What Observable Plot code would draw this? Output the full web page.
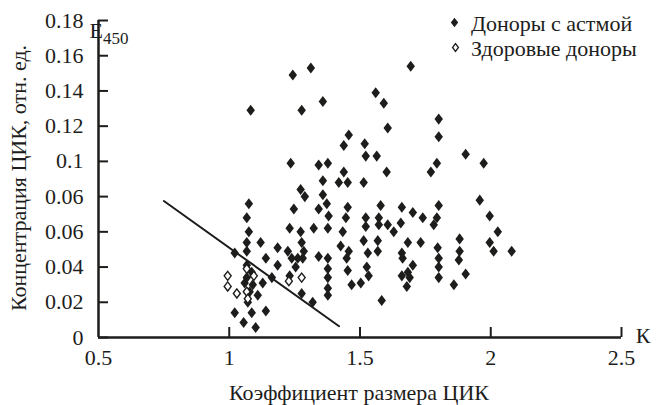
<!DOCTYPE html>
<html>
<head>
<meta charset="utf-8">
<script src="https://cdn.jsdelivr.net/npm/d3@7"></script>
<script src="https://cdn.jsdelivr.net/npm/@observablehq/plot@0.6"></script>
<style>
  html, body { margin: 0; padding: 0; background: #fff; }
  #chart svg { display: block; }
</style>
</head>
<body>
<div id="chart"></div>
<script>
// ---- data ----
const asthmaX = [1.312,1.243,1.082,1.277,1.358,1.457,1.438,1.235,1.342,1.377,1.438,1.358,1.419,1.453,1.273,1.358,1.289,
  1.694,1.560,1.591,1.801,1.606,1.801,1.518,1.522,1.564,1.904,1.973,1.602,1.794,1.771,1.514,
  1.075,1.067,1.247,1.373,1.342,1.380,1.453,1.446,1.231,1.273,1.323,1.377,1.434,1.075,1.067,1.120,1.185,1.277,
  1.285,1.426,1.457,1.021,1.067,1.140,1.224,1.239,1.262,1.281,1.342,1.377,1.449,1.185,1.254,1.067,1.086,1.067,
  1.377,1.453,1.163,1.231,1.377,1.059,1.090,1.128,1.468,1.377,1.078,1.109,1.377,1.277,1.071,1.319,1.021,1.086,
  1.140,1.055,1.101,
  1.958,1.996,2.027,1.996,2.011,2.080,1.579,1.660,1.702,1.740,1.801,1.794,1.782,1.522,1.522,1.572,1.572,1.606,
  1.629,1.656,1.514,1.530,1.568,1.568,1.683,1.732,1.660,1.663,1.797,1.801,1.801,1.801,1.881,1.881,1.878,1.904,
  1.859,1.526,1.533,1.503,1.702,1.683,1.660,1.690,1.679,1.583];
const asthmaY = [0.153,0.149,0.129,0.129,0.134,0.115,0.109,0.099,0.098,0.099,0.094,0.089,0.088,0.088,0.084,0.081,0.080,
  0.154,0.139,0.133,0.124,0.119,0.114,0.110,0.103,0.103,0.104,0.099,0.094,0.099,0.094,0.088,
  0.076,0.068,0.073,0.076,0.073,0.069,0.074,0.068,0.062,0.060,0.062,0.062,0.060,0.060,0.054,0.054,0.051,0.054,
  0.049,0.052,0.049,0.048,0.049,0.045,0.049,0.045,0.045,0.045,0.046,0.045,0.045,0.041,0.040,0.041,0.037,0.034,
  0.039,0.038,0.034,0.035,0.034,0.031,0.030,0.031,0.030,0.028,0.026,0.024,0.024,0.025,0.020,0.020,0.014,0.014,
  0.015,0.0085,0.0057,
  0.078,0.069,0.060,0.054,0.049,0.049,0.075,0.074,0.071,0.068,0.075,0.068,0.064,0.068,0.063,0.068,0.064,0.064,
  0.060,0.065,0.055,0.048,0.055,0.049,0.054,0.054,0.048,0.045,0.051,0.045,0.040,0.034,0.056,0.049,0.044,0.036,
  0.030,0.040,0.035,0.031,0.041,0.037,0.035,0.034,0.029,0.021];
const healthyX = [0.994,0.994,1.029,1.067,1.094,1.067,1.071,1.228,1.277];
const healthyY = [0.035,0.029,0.025,0.039,0.035,0.026,0.022,0.032,0.034];
const lineX = [0.75, 1.42];
const lineY = [0.0775, 0.0064];
const xTicks = [0.5, 1, 1.5, 2, 2.5];
const xTickLabels = ["0.5", "1", "1.5", "2", "2.5"];
const yTicks = [0, 0.02, 0.04, 0.06, 0.08, 0.1, 0.12, 0.14, 0.16, 0.18];
const yTickLabels = ["0", "0.02", "0.04", "0.06", "0.06", "0.1", "0.12", "0.14", "0.16", "0.18"];
const seriesNames = ["Доноры с астмой", "Здоровые доноры"];
const xTitle = "Коэффициент размера ЦИК";
const yTitle = "Концентрация ЦИК, отн. ед.";
const xUnit = "К";
const eMain = "E";
const eSub = "450";

// ---- build ----
const asthma = asthmaX.map((x, i) => ({x, y: asthmaY[i]}));
const healthy = healthyX.map((x, i) => ({x, y: healthyY[i]}));
const trend = lineX.map((x, i) => ({x, y: lineY[i]}));

const diamond = {
  draw(context, size) {
    const r = Math.sqrt(size / Math.PI);
    const hy = r * 1.2, hx = r * 0.92;
    context.moveTo(0, -hy);
    context.lineTo(hx, 0);
    context.lineTo(0, hy);
    context.lineTo(-hx, 0);
    context.closePath();
  }
};

const ink = "#1d1d1b";
const xDom = [0.5, 2.5], yDom = [0, 0.18];
const FONT = '"Liberation Serif"';

const chart = Plot.plot({
  width: 657,
  height: 405,
  marginLeft: 98,
  marginRight: 36,
  marginTop: 20,
  marginBottom: 68,
  style: {color: ink, background: "#fff"},
  x: {domain: xDom},
  y: {domain: yDom},
  marks: [
    Plot.axisX({ticks: xTicks, tickSize: 0, tickPadding: 12, tickFormat: d => xTickLabels[xTicks.indexOf(d)], label: null, fontSize: 22}),
    Plot.axisY({ticks: yTicks, tickSize: 0, tickPadding: 15, tickFormat: d => yTickLabels[yTicks.indexOf(d)], label: null, fontSize: 22}),
    Plot.ruleY(yTicks, {y: d => d, x1: xDom[0], x2: xDom[0], insetRight: -10, stroke: ink, strokeWidth: 2}),
    Plot.ruleX(xTicks.slice(1), {x: d => d, y1: yDom[0], y2: yDom[0], insetBottom: 10, stroke: ink, strokeWidth: 2}),
    Plot.ruleX([xDom[0]], {stroke: ink, strokeWidth: 2.5}),
    Plot.ruleY([yDom[0]], {stroke: ink, strokeWidth: 2.5}),
    Plot.dot(asthma, {x: "x", y: "y", symbol: diamond, r: 4.6, fill: ink, stroke: "none"}),
    Plot.dot(healthy, {x: "x", y: "y", symbol: diamond, r: 3.8, fill: "#fff", stroke: ink, strokeWidth: 1.4}),
    Plot.line(trend, {x: "x", y: "y", stroke: ink, strokeWidth: 2}),
    Plot.dot([seriesNames[0]], {frameAnchor: "top-right", dx: -167, dy: 2, symbol: diamond, r: 4.0, fill: ink, stroke: "none"}),
    Plot.dot([seriesNames[1]], {frameAnchor: "top-right", dx: -166, dy: 27, symbol: diamond, r: 3.2, fill: "#fff", stroke: ink, strokeWidth: 1.3})
  ]
});
document.getElementById("chart").appendChild(chart);

// annotation texts appended into the same SVG
const svg = d3.select(chart);
function addText(t, x, y, opts = {}) {
  const el = svg.append("text")
    .attr("x", x).attr("y", y)
    .attr("fill", ink)
    .attr("text-anchor", opts.anchor || "start")
    .attr("dy", "0.35em")
    .style("font-size", (opts.size || 22) + "px")
    .text(t);
  if (opts.rotate) el.attr("transform", `rotate(${opts.rotate},${x},${y})`);
  return el;
}
addText(xTitle, 359, 392, {anchor: "middle"});
addText(yTitle, 18, 178, {anchor: "middle", rotate: -90});
addText(xUnit, 643, 335, {anchor: "middle"});
const e = svg.append("text").attr("x", 109).attr("y", 38).attr("fill", ink)
  .style("font-size", "22px");
e.append("tspan").text(eMain);
e.append("tspan").attr("dy", 6).style("font-size", "17px").text(eSub);
addText(seriesNames[0], 471, 23);
addText(seriesNames[1], 471, 48);

// wrap plain text content in tspans and force the serif face
svg.selectAll("text").each(function() {
  const t = d3.select(this);
  if (this.querySelector("tspan")) return;
  const s = this.textContent;
  this.textContent = "";
  t.append("tspan").text(s);
});
svg.selectAll("text, tspan").style("font-family", FONT, "important");
</script>
</body>
</html>
